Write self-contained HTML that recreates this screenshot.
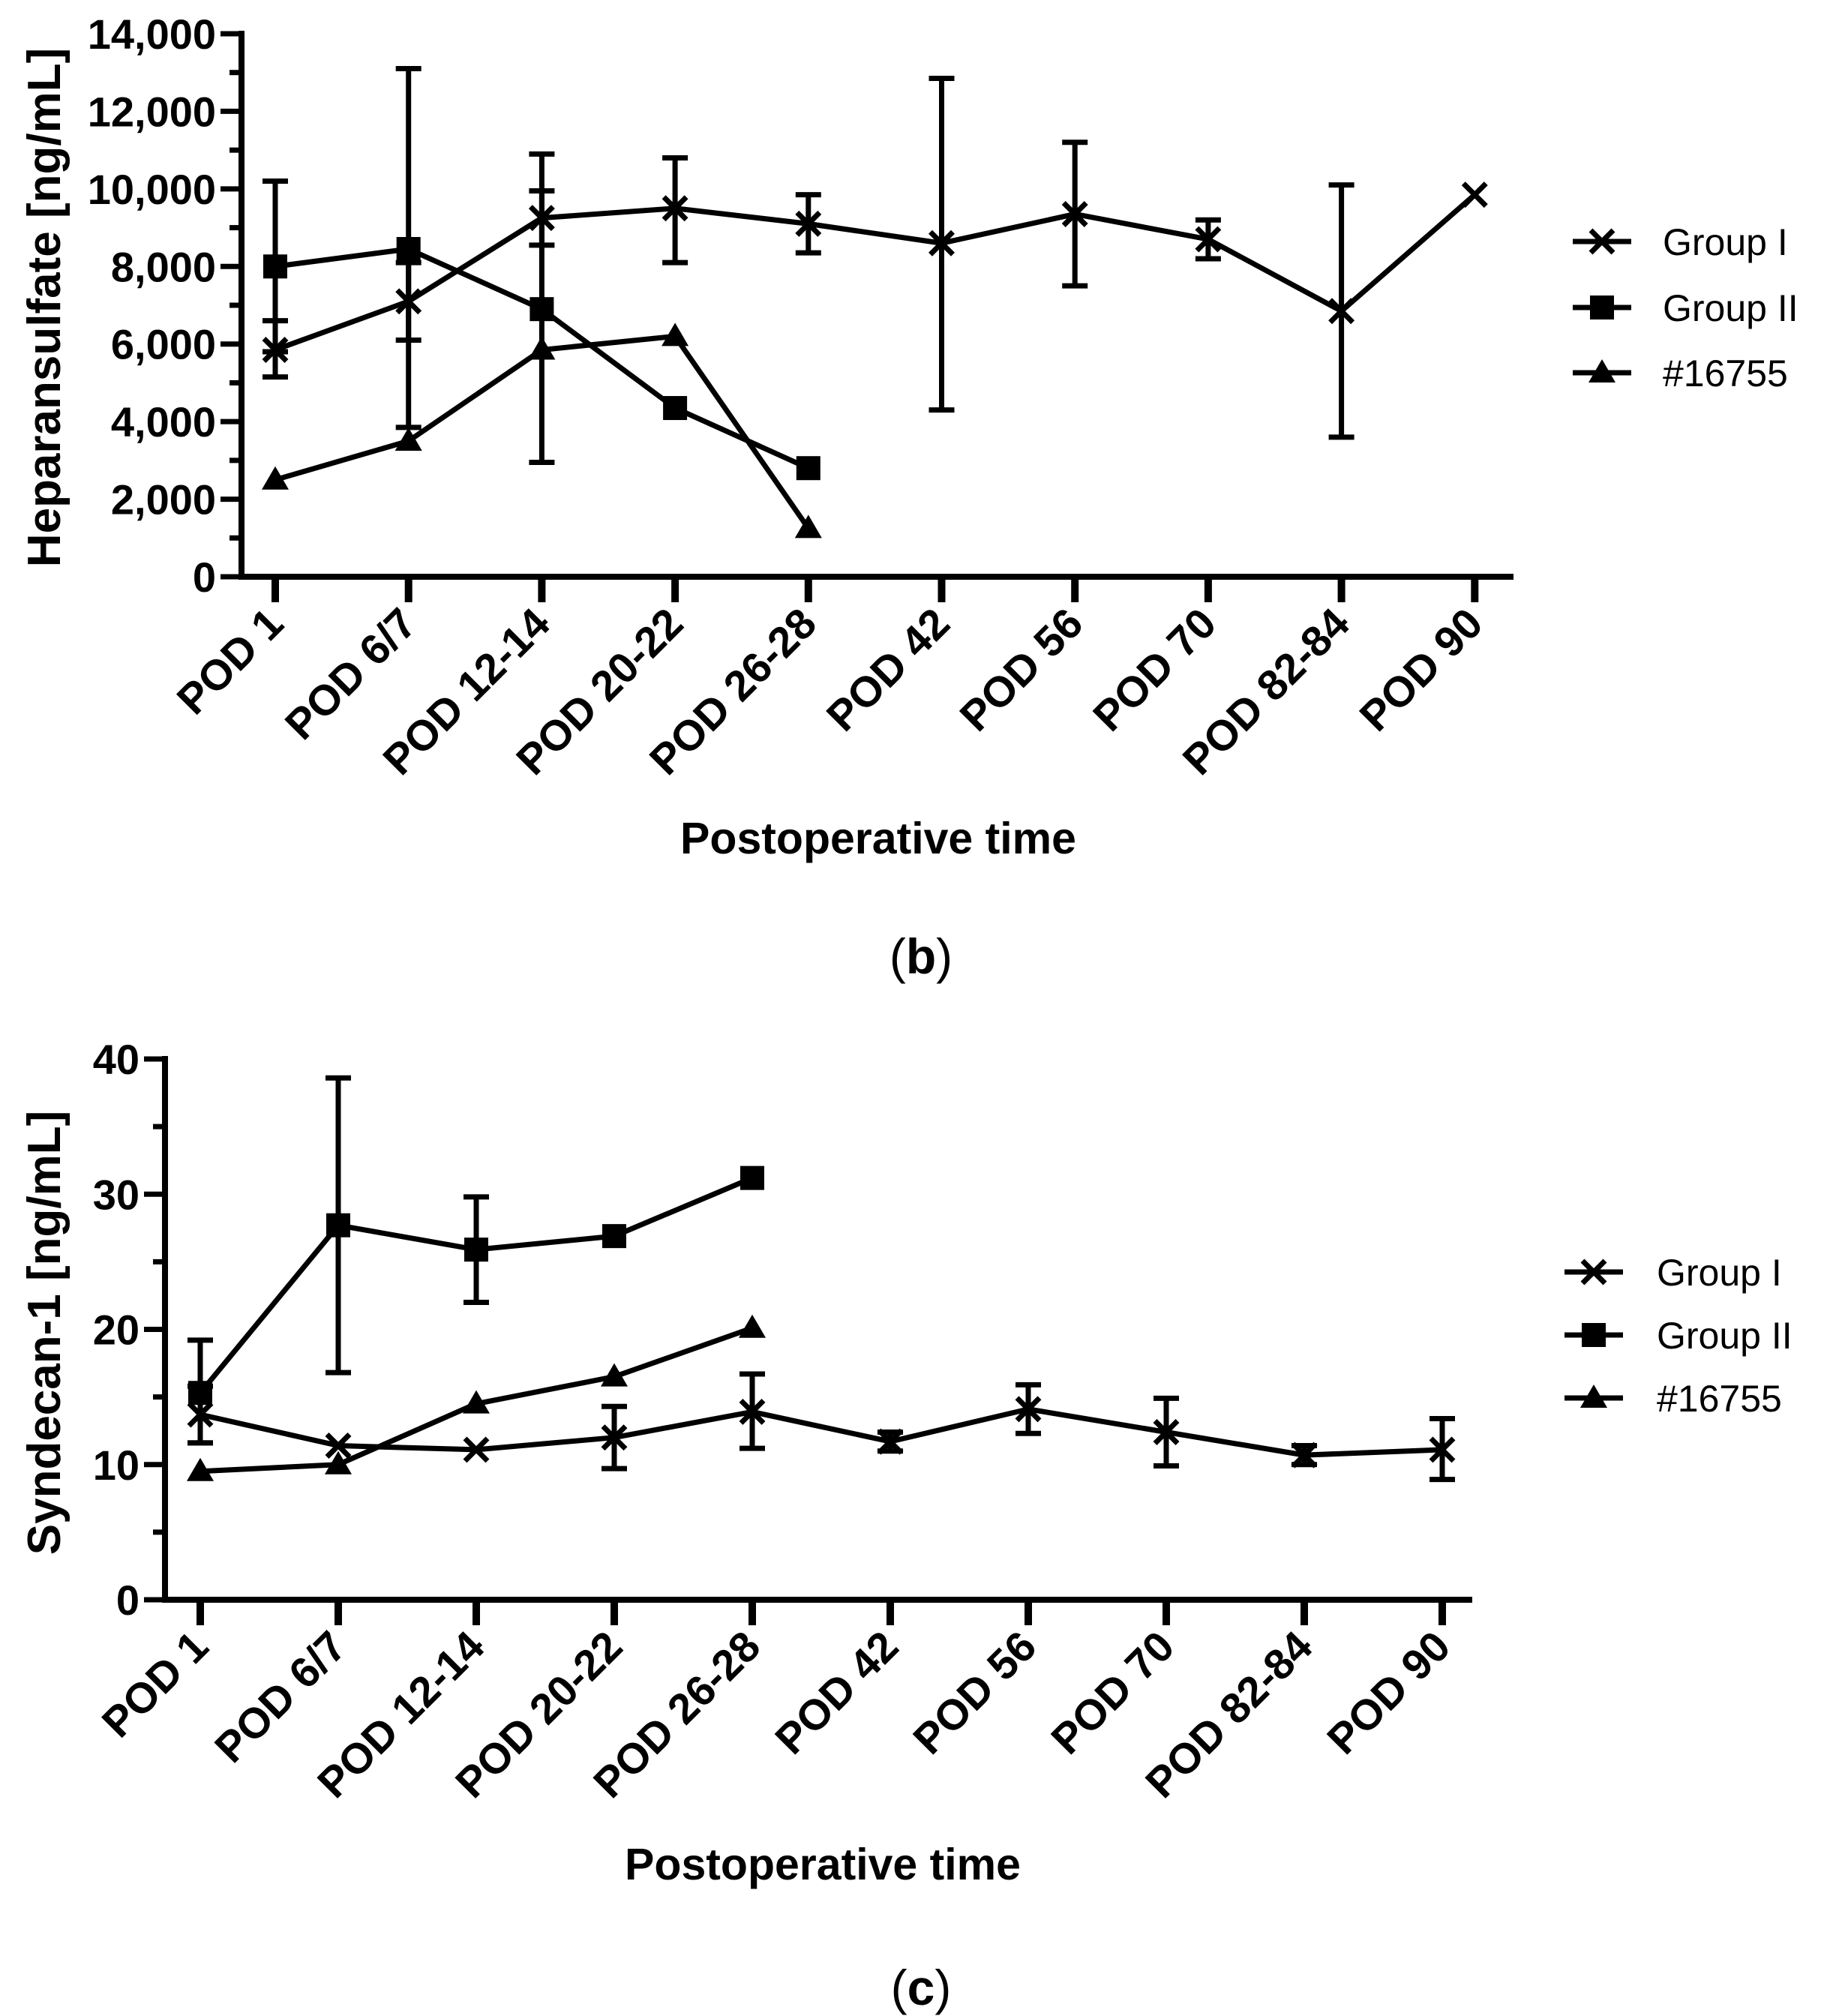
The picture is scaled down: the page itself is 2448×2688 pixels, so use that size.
<!DOCTYPE html>
<html><head><meta charset="utf-8"><style>
html,body{margin:0;padding:0;background:#fff}
svg{display:block}
text{font-family:"Liberation Sans",Arial,sans-serif;fill:#000}
</style></head><body>
<svg id="fig" width="2448" height="2688" viewBox="0 0 2448 2688" xmlns="http://www.w3.org/2000/svg"></svg>
<script>
const categories=["POD 1","POD 6/7","POD 12-14","POD 20-22","POD 26-28","POD 42","POD 56","POD 70","POD 82-84","POD 90"];
// Heparansulfate (b)
const hsG1=[5850,7100,9250,9500,9100,8600,9350,8700,6850,9850];
const hsG1Lo=[5150,6100,8550,8100,8350,4300,7500,8200,3600,null];
const hsG1Hi=[6600,8100,9950,10800,9850,12850,11200,9200,10100,null];
const hsG2=[8000,8450,6900,4350,2800];
const hsG2Lo=[5800,3850,2950,null,null];
const hsG2Hi=[10200,13100,10900,null,null];
const hsTri=[2500,3500,5850,6200,1250];
const hsTicks=[0,2000,4000,6000,8000,10000,12000,14000];
const hsTickLabels=["0","2,000","4,000","6,000","8,000","10,000","12,000","14,000"];
// Syndecan-1 (c)
const sdG1=[13.7,11.4,11.1,12.0,13.9,11.7,14.1,12.4,10.7,11.1];
const sdG1Lo=[11.6,null,null,9.7,11.2,11.0,12.3,9.9,10.0,8.9];
const sdG1Hi=[15.8,null,null,14.3,16.7,12.4,15.9,14.9,11.4,13.4];
const sdG2=[15.3,27.7,25.9,26.9,31.2];
const sdG2Lo=[11.6,16.8,22.0,null,null];
const sdG2Hi=[19.2,38.6,29.8,null,null];
const sdTri=[9.5,10.0,14.5,16.5,20.1];
const sdTicks=[0,10,20,30,40];
const sdTickLabels=["0","10","20","30","40"];
const legendLabels=["Group I","Group II","#16755"];

const NS="http://www.w3.org/2000/svg";
const svg=document.getElementById('fig');
function el(tag,attrs,parent,txt){const e=document.createElementNS(NS,tag);for(const k in attrs)e.setAttribute(k,attrs[k]);if(txt!==undefined)e.textContent=txt;(parent||svg).appendChild(e);return e;}

function marker(g,kind,x,y,s){
  if(kind==='x'){
    const m=el('path',{d:`M${x-s} ${y-s}L${x+s} ${y+s}M${x-s} ${y+s}L${x+s} ${y-s}`,stroke:'#000','stroke-width':7,fill:'none'},g);
    
  }else if(kind==='sq'){
    const m=el('rect',{x:x-16,y:y-16,width:32,height:32,fill:'#000'},g);
    
  }else{
    const m=el('path',{d:`M${x} ${y-18}L${x+18} ${y+13}L${x-18} ${y+13}Z`,fill:'#000'},g);
    
  }
}

function chart(o){
  const g=el('g',{},svg);
  
  const xs=i=>o.x0+i*o.step;
  const ys=v=>o.yBase-(v-o.vmin)/(o.vmax-o.vmin)*(o.yBase-o.yTop);
  const ya=el('line',{x1:o.ax,y1:o.yTop-4,x2:o.ax,y2:o.yBase+4,stroke:'#000','stroke-width':8},g);
  
  const xa=el('line',{x1:o.ax-4,y1:o.yBase,x2:o.axEnd,y2:o.yBase,stroke:'#000','stroke-width':8},g);
  
  o.ticks.forEach((v,i)=>{
    const y=ys(v);
    el('line',{x1:o.ax-28,y1:y,x2:o.ax,y2:y,stroke:'#000','stroke-width':7},g);
    const t=el('text',{x:o.ax-34,y:y+20,'text-anchor':'end','font-size':56,'font-weight':'bold'},g,o.tickLabels[i]);
    
    if(i<o.ticks.length-1){const ym=ys((v+o.ticks[i+1])/2);el('line',{x1:o.ax-16,y1:ym,x2:o.ax,y2:ym,stroke:'#000','stroke-width':7},g);}
  });
  categories.forEach((c,i)=>{
    const x=xs(i);
    el('line',{x1:x,y1:o.yBase,x2:x,y2:o.yBase+34,stroke:'#000','stroke-width':10},g);
    const t=el('text',{x:x+14,y:o.yBase+66,'text-anchor':'end','font-size':57,'font-weight':'bold',transform:`rotate(-45 ${x+14} ${o.yBase+66})`},g,c);
    
  });
  const series=[[o.g1,o.g1Lo,o.g1Hi,'x'],[o.g2,o.g2Lo,o.g2Hi,'sq'],[o.tri,null,null,'tri']];
  series.forEach(([vals,lo,hi,kind],si)=>{
    const sg=el('g',{},g);
    
    
    if(lo){vals.forEach((v,i)=>{
      if(lo[i]==null&&hi[i]==null)return;
      const x=xs(i);const a=ys(hi[i]!=null?hi[i]:v),b=ys(lo[i]!=null?lo[i]:v);
      el('line',{x1:x,y1:a,x2:x,y2:b,stroke:'#000','stroke-width':7},sg);
      if(hi[i]!=null)el('line',{x1:x-17,y1:a,x2:x+17,y2:a,stroke:'#000','stroke-width':7},sg);
      if(lo[i]!=null)el('line',{x1:x-17,y1:b,x2:x+17,y2:b,stroke:'#000','stroke-width':7},sg);
    });}
    const pts=vals.map((v,i)=>`${xs(i)},${ys(v)}`).join(' ');
    el('polyline',{points:pts,fill:'none',stroke:'#000','stroke-width':7,'stroke-linejoin':'round'},sg);
    vals.forEach((v,i)=>marker(sg,kind,xs(i),ys(v),kind==='x'?15:0));
  });
  const xt=el('text',{x:o.xtX,y:o.xtY,'text-anchor':'middle','font-size':59,'font-weight':'bold'},g,'Postoperative time');
  
  const yt=el('text',{x:0,y:0,'text-anchor':'middle','font-size':62,'font-weight':'bold',transform:`translate(${o.ytX} ${o.ytY}) rotate(-90)`},g,o.ytitle);
  
  const lg=el('g',{},g);
  ['x','sq','tri'].forEach((k,i)=>{
    const y=o.legY[i];
    const e=el('g',{},lg);
    el('line',{x1:o.legX,y1:y,x2:o.legX+78,y2:y,stroke:'#000','stroke-width':7},e);
    marker(e,k,o.legX+39,y,15);
    el('text',{x:o.legTX,y:y+18,'font-size':50},e,legendLabels[i]);
  });
  const p=el('text',{x:1228,y:o.panelY,'text-anchor':'middle','font-size':66,'font-family':'"Liberation Serif",serif'},g);
  
  el('tspan',{},p,'(');el('tspan',{'font-weight':'bold'},p,o.panel);el('tspan',{},p,')');
}

chart({name:'heparansulfate-chart',ax:322,axEnd:2018,yBase:769,yTop:45,vmin:0,vmax:14000,x0:367,step:177.7,
  ticks:hsTicks,tickLabels:hsTickLabels,g1:hsG1,g1Lo:hsG1Lo,g1Hi:hsG1Hi,g2:hsG2,g2Lo:hsG2Lo,g2Hi:hsG2Hi,tri:hsTri,
  xtX:1171,xtY:1138,ytX:80,ytY:410,ytitle:'Heparansulfate [ng/mL]',legX:2097,legTX:2217,legY:[322,410,497],panel:'b',panelY:1298});
chart({name:'syndecan-chart',ax:220,axEnd:1963,yBase:2133,yTop:1412,vmin:0,vmax:40,x0:267,step:184,
  ticks:sdTicks,tickLabels:sdTickLabels,g1:sdG1,g1Lo:sdG1Lo,g1Hi:sdG1Hi,g2:sdG2,g2Lo:sdG2Lo,g2Hi:sdG2Hi,tri:sdTri,
  xtX:1097,xtY:2506,ytX:80,ytY:1777,ytitle:'Syndecan-1 [ng/mL]',legX:2086,legTX:2209,legY:[1696,1780,1864],panel:'c',panelY:2673});
</script>
</body></html>
